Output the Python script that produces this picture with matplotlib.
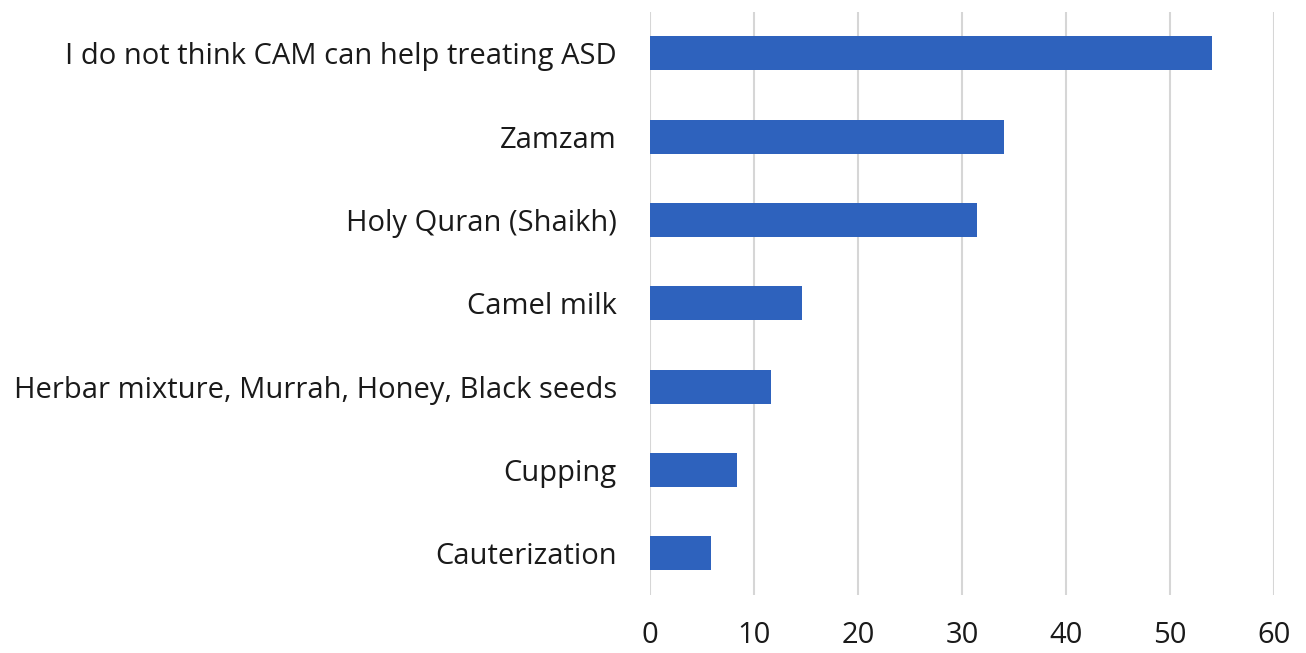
import matplotlib
matplotlib.use("Agg")
import matplotlib.pyplot as plt

categories = [
    "I do not think CAM can help treating ASD",
    "Zamzam",
    "Holy Quran (Shaikh)",
    "Camel milk",
    "Herbar mixture, Murrah, Honey, Black seeds",
    "Cupping",
    "Cauterization",
]
values = [54.0, 34.0, 31.4, 14.6, 11.6, 8.4, 5.9]
x_ticks = [0, 10, 20, 30, 40, 50, 60]

plt.rcParams['font.family'] = ['Open Sans', 'DejaVu Sans']

fig = plt.figure(figsize=(13.06, 6.53), dpi=100)
ax = fig.add_axes([0.4977, 0.089, 0.4778, 0.893])

pos = list(range(len(categories)))[::-1]
ax.barh(pos, values, height=0.41, color='#2e62bd', zorder=3)

ax.set_xlim(0, 60)
ax.set_ylim(-0.5, len(categories) - 0.5)
ax.set_xticks(x_ticks)
ax.set_yticks(pos)
ax.set_yticklabels(categories, fontsize=21, color='#1a1a1a')
ax.tick_params(axis='x', labelsize=21, colors='#1a1a1a', length=0, pad=19)
ax.tick_params(axis='y', length=0, pad=24)
ax.grid(axis='x', color='#d6d6d6', linewidth=1.5, zorder=0)
for s in ax.spines.values():
    s.set_visible(False)

fig.savefig("out.png", dpi=100, facecolor='white')
